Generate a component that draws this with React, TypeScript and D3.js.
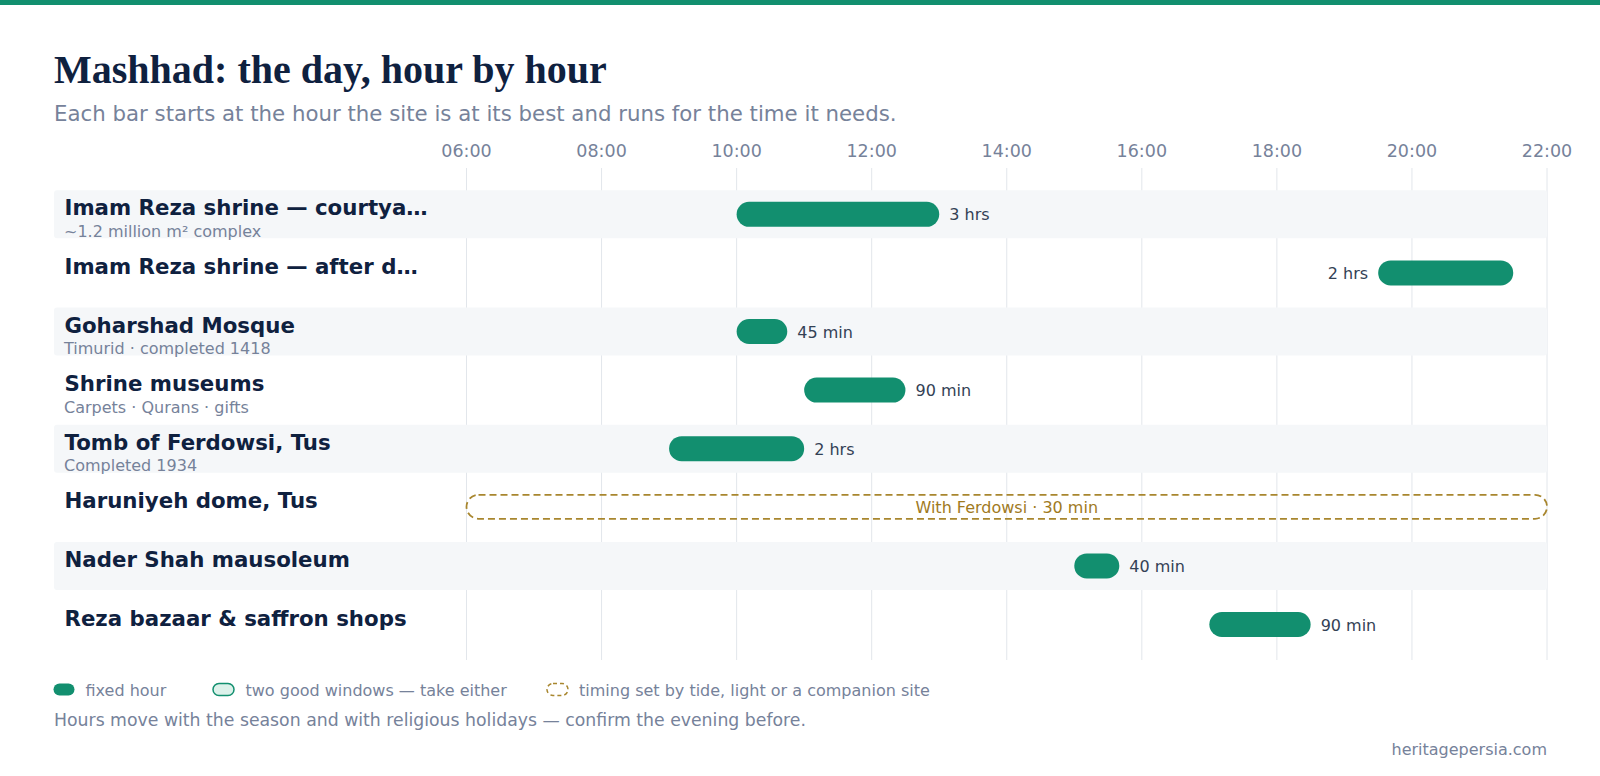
import React from "react";
import * as d3 from "d3";

const siteNames = [
  "Imam Reza shrine — courtya…",
  "Imam Reza shrine — after d…",
  "Goharshad Mosque",
  "Shrine museums",
  "Tomb of Ferdowsi, Tus",
  "Haruniyeh dome, Tus",
  "Nader Shah mausoleum",
  "Reza bazaar & saffron shops",
];
const siteNotes = [
  "~1.2 million m² complex",
  "",
  "Timurid · completed 1418",
  "Carpets · Qurans · gifts",
  "Completed 1934",
  "",
  "",
  "",
];
const startHours = [10, 19.5, 10, 11, 9, 6, 15, 17];
const endHours = [13, 21.5, 10.75, 12.5, 11, 22, 15 + 40 / 60, 18.5];
const durationLabels = ["3 hrs", "2 hrs", "45 min", "90 min", "2 hrs", "With Ferdowsi · 30 min", "40 min", "90 min"];
const timingKinds = ["fixed", "fixed", "fixed", "fixed", "fixed", "companion", "fixed", "fixed"];
const tickHours = [6, 8, 10, 12, 14, 16, 18, 20, 22];
const legendLabels = [
  "fixed hour",
  "two good windows — take either",
  "timing set by tide, light or a companion site",
];

const W = 1600;
const H = 776;
const SANS = "'DejaVu Sans', sans-serif";
const GREEN = "#128f6f";
const GOLD = "#a8862e";
const NAVY = "#0f213f";
const GRAY = "#76829a";

function textWidth(s: string, size: number) {
  return s.length * size * 0.58;
}

export default function App() {
  const x = d3.scaleLinear().domain([6, 22]).range([466.5, 1547]);
  const y = d3
    .scaleBand<number>()
    .domain(d3.range(siteNames.length))
    .range([185, 185 + 58.6 * siteNames.length])
    .paddingInner(0)
    .paddingOuter(0);
  const bandH = 48;
  const barH = 25;
  const cy = (i: number) => (y(i) as number) + y.bandwidth() / 2;
  const fmt = (h: number) => d3.format("02d")(h) + ":00";

  return (
    <svg
      width={W}
      height={H}
      style={{ position: "absolute", left: 0, top: 0, display: "block", background: "#fff" }}
    >
      <rect x={0} y={0} width={W} height={5} fill={GREEN} />
      <text x={54} y={83} fontFamily="'Liberation Serif', serif" fontWeight="bold" fontSize={40} fill={NAVY}>
        Mashhad: the day, hour by hour
      </text>
      <text x={54} y={121} fontFamily={SANS} fontSize={21.3} fill={GRAY}>
        Each bar starts at the hour the site is at its best and runs for the time it needs.
      </text>

      {tickHours.map((h) => (
        <g key={h}>
          <line x1={x(h)} x2={x(h)} y1={168} y2={660} stroke="#e2e6eb" strokeWidth={1} />
          <text x={x(h)} y={157} textAnchor="middle" fontFamily={SANS} fontSize={17.5} fill={GRAY}>
            {fmt(h)}
          </text>
        </g>
      ))}

      {siteNames.map((name, i) =>
        i % 2 === 0 ? (
          <rect key={"band" + i} x={54} y={cy(i) - bandH / 2} width={x(22) - 54} height={bandH} rx={3} fill="#f5f7f9" />
        ) : null
      )}

      {siteNames.map((name, i) => {
        const c = cy(i);
        const x0 = x(startHours[i]);
        const x1 = x(endHours[i]);
        const kind = timingKinds[i];
        const lbl = durationLabels[i];
        const lw = textWidth(lbl, 16);
        const putLeft = x1 + 10 + lw > x(22);
        return (
          <g key={name}>
            <text x={64.5} y={c + 1} fontFamily={SANS} fontWeight="bold" fontSize={21.3} fill={NAVY}>
              {name}
            </text>
            {siteNotes[i] ? (
              <text x={64} y={c + 22.5} fontFamily={SANS} fontSize={16} fill={GRAY}>
                {siteNotes[i]}
              </text>
            ) : null}
            {kind === "companion" ? (
              <>
                <rect
                  x={x0}
                  y={c - barH / 2}
                  width={x1 - x0}
                  height={barH - 1}
                  rx={12}
                  fill="none"
                  stroke={GOLD}
                  strokeWidth={1.8}
                  strokeDasharray="7 4"
                />
                <text x={(x0 + x1) / 2} y={c + 5.5} textAnchor="middle" fontFamily={SANS} fontSize={16} fill="#a07a1e">
                  {lbl}
                </text>
              </>
            ) : (
              <>
                <rect x={x0} y={c - barH / 2} width={x1 - x0} height={barH} rx={barH / 2} fill={GREEN} />
                <text
                  x={putLeft ? x0 - 10 : x1 + 10}
                  y={c + 6}
                  textAnchor={putLeft ? "end" : "start"}
                  fontFamily={SANS}
                  fontSize={16}
                  fill="#334155"
                >
                  {lbl}
                </text>
              </>
            )}
          </g>
        );
      })}

      <g fontFamily={SANS} fontSize={16} fill={GRAY}>
        <rect x={53.5} y={683.5} width={21} height={12} rx={6} fill={GREEN} />
        <text x={85.5} y={695.5}>{legendLabels[0]}</text>
        <rect x={213} y={683.5} width={21} height={12} rx={6} fill="#dcf1ea" stroke={GREEN} strokeWidth={1.5} />
        <text x={245.5} y={695.5}>{legendLabels[1]}</text>
        <rect x={547} y={683.5} width={21} height={12} rx={6} fill="none" stroke={GOLD} strokeWidth={1.5} strokeDasharray="4 3" />
        <text x={579} y={695.5}>{legendLabels[2]}</text>
      </g>
      <text x={54} y={725.5} fontFamily={SANS} fontSize={17.3} fill={GRAY}>
        Hours move with the season and with religious holidays — confirm the evening before.
      </text>
      <text x={1547} y={754.5} textAnchor="end" fontFamily={SANS} fontSize={16} fill={GRAY}>
        heritagepersia.com
      </text>
    </svg>
  );
}
